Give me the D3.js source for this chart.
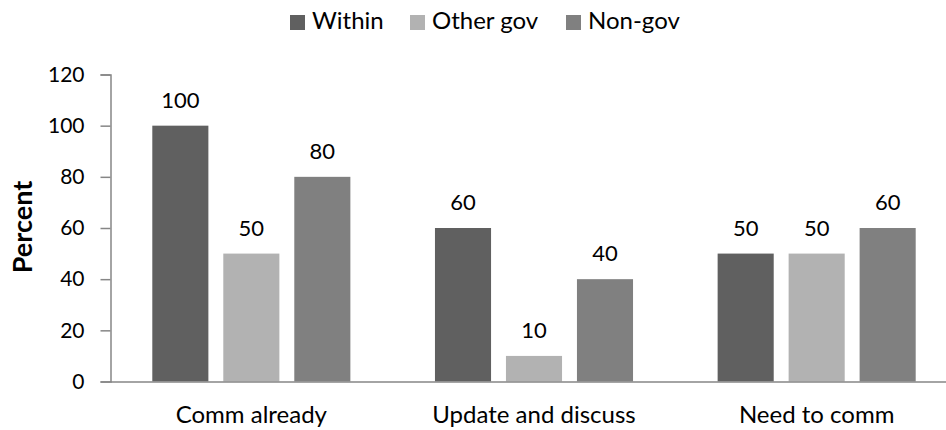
<!DOCTYPE html>
<html><head><meta charset="utf-8">
<script src="https://cdn.jsdelivr.net/npm/d3@7"></script>
<style>body{margin:0;background:#fff}svg{display:block}text{font-family:Lato,"Open Sans",sans-serif;fill:#000}</style>
</head><body><svg id="c" width="946" height="430"></svg>
<script>
const categories = ["Comm already", "Update and discuss", "Need to comm"];
const seriesNames = ["Within", "Other gov", "Non-gov"];
const within = [100, 60, 50];
const otherGov = [50, 10, 50];
const nonGov = [80, 40, 60];
const yTicks = [0, 20, 40, 60, 80, 100, 120];
const colors = ["#606060", "#b2b2b2", "#808080"];

const values = [within, otherGov, nonGov];
const svg = d3.select("#c");
const FF = "Lato, 'Open Sans', sans-serif";
const x0 = d3.scaleBand().domain(categories).range([110, 958]).paddingInner(0).paddingOuter(0);
const x1 = d3.scaleBand().domain(seriesNames).range([42.3, x0.bandwidth() - 42.3]).paddingInner(0.21).paddingOuter(0);
const y = d3.scaleLinear().domain([0, 120]).range([381.5, 74.5]);

// y axis
const ya = svg.append("g").attr("transform", "translate(110.5,0)")
  .call(d3.axisLeft(y).tickValues(yTicks).tickSize(10).tickPadding(16).tickFormat(d3.format("d")));
ya.select(".domain").attr("stroke", "#868686").attr("stroke-width", 1.5);
ya.selectAll(".tick line").attr("stroke", "#868686").attr("stroke-width", 1.5);
ya.selectAll(".tick text").style("font-size", "21px").style("font-family", FF).attr("fill", "#000");

// bars
categories.forEach((c, ci) => {
  const g = svg.append("g").attr("transform", `translate(${x0(c)},0)`);
  seriesNames.forEach((s, si) => {
    const v = values[si][ci];
    g.append("rect").attr("x", x1(s)).attr("y", y(v)).attr("width", x1.bandwidth()).attr("height", y(0) - y(v)).attr("fill", colors[si]);
    g.append("text").attr("x", x1(s) + x1.bandwidth() / 2).attr("y", y(v) - 18).attr("text-anchor", "middle").style("font-size", "22px").text(v);
  });
});

// x axis
const xa = svg.append("g").attr("transform", "translate(0,381.5)")
  .call(d3.axisBottom(x0).tickSize(0).tickPadding(24));
xa.select(".domain").attr("stroke", "#868686").attr("stroke-width", 1.5);
xa.selectAll(".tick text").style("font-size", "24px").style("font-family", FF).attr("fill", "#000");

// y label
svg.append("text").attr("transform", "translate(32,227) rotate(-90)").attr("text-anchor", "middle")
  .style("font-size", "27px").style("font-weight", "bold").text("Percent");

// legend
const legX = [290, 410, 566];
seriesNames.forEach((s, i) => {
  svg.append("rect").attr("x", legX[i]).attr("y", 15).attr("width", 15).attr("height", 15).attr("fill", colors[i]);
  svg.append("text").attr("x", legX[i] + 22).attr("y", 29).style("font-size", "24px").text(s);
});
</script></body></html>
